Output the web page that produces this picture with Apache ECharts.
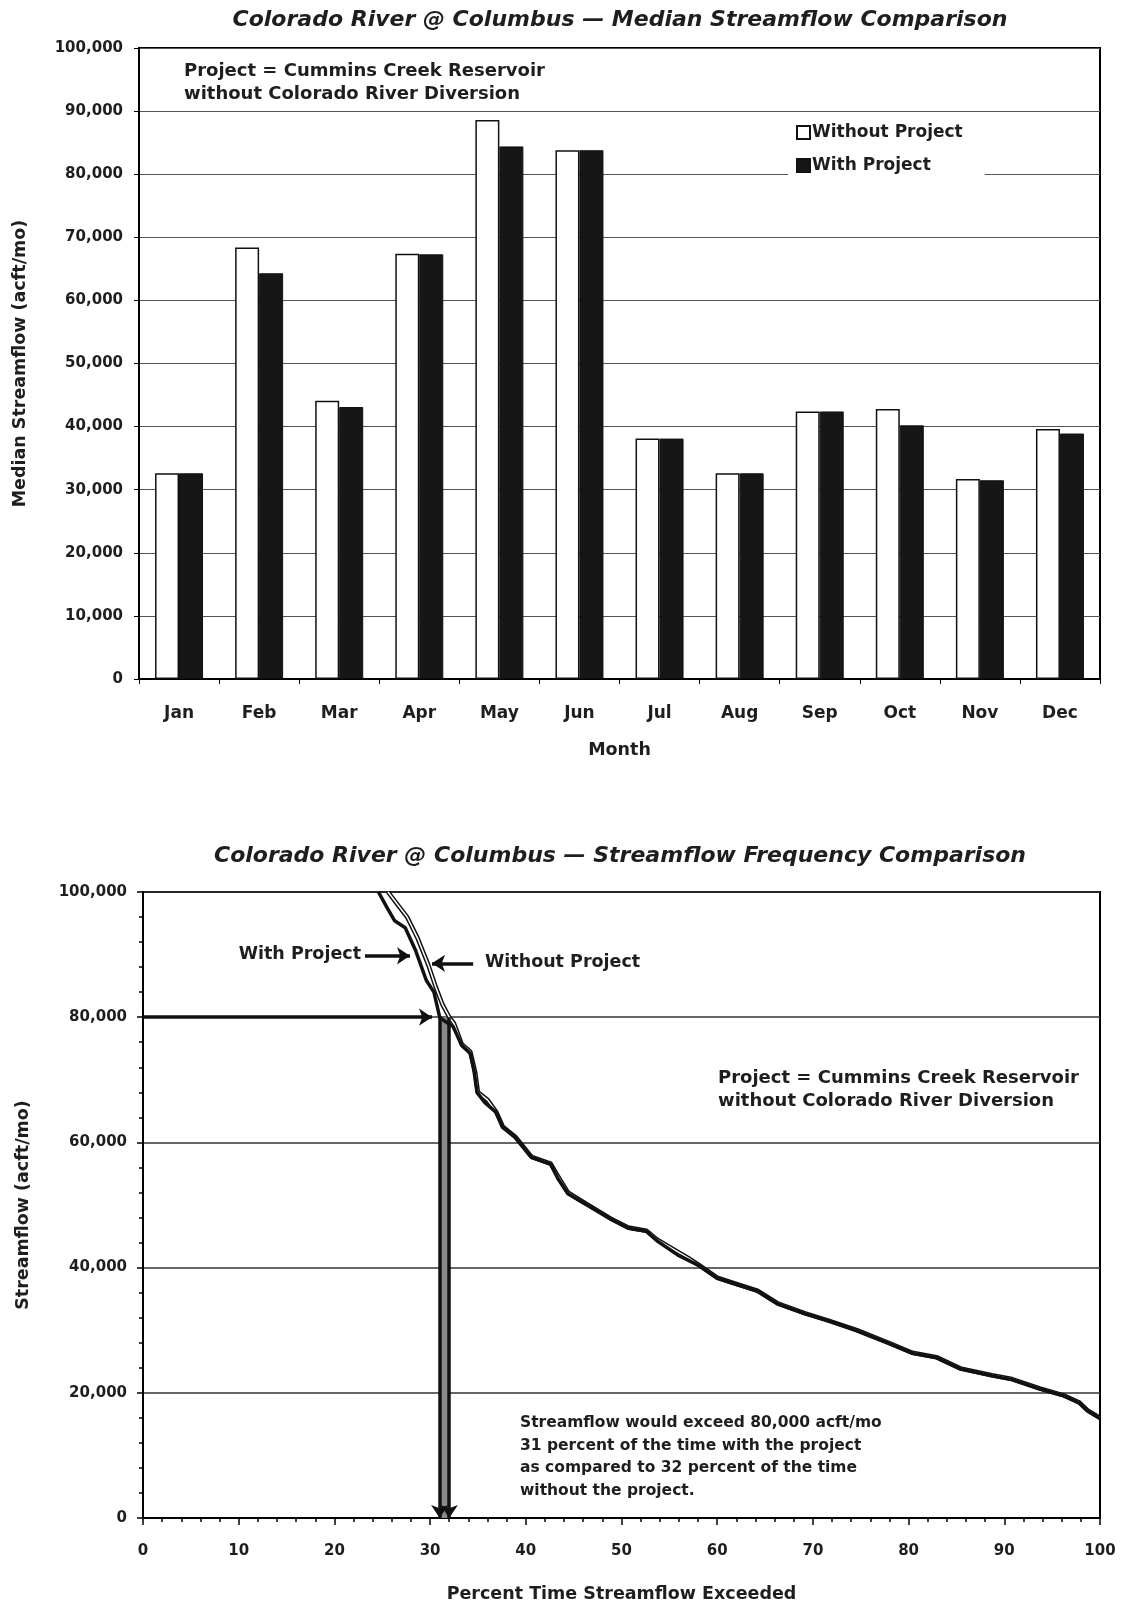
<!DOCTYPE html>
<html>
<head>
<meta charset="utf-8">
<script src="https://cdn.jsdelivr.net/npm/echarts@6/dist/echarts.min.js"></script>
<style>
html, body { margin: 0; padding: 0; background: #fff; }
#chart { width: 1123px; height: 1604px; }
</style>
</head>
<body>
<div id="chart"></div>
<script>
// Median monthly streamflow (acft/mo)
var months = ['Jan', 'Feb', 'Mar', 'Apr', 'May', 'Jun', 'Jul', 'Aug', 'Sep', 'Oct', 'Nov', 'Dec'];
var medianWithout = [32600, 68400, 44100, 67400, 88600, 83800, 38100, 32600, 42400, 42800, 31700, 39600];
var medianWith = [32600, 64300, 43100, 67300, 84400, 83800, 38100, 32600, 42400, 40200, 31500, 38900];

// Frequency curves: [percent of time exceeded, streamflow acft/mo]
var freqWith = [
    [24.6, 100000], [25.5, 97500], [26.3, 95400], [27.4, 94300], [28.5, 90600], [29.6, 85900],
    [30.4, 84000], [31.0, 80000], [31.6, 79300], [32.4, 78500], [33.3, 75500], [34.2, 74200],
    [34.6, 71300], [34.9, 68000], [35.7, 66400], [36.9, 64800], [37.6, 62400], [38.9, 60800],
    [40.6, 57600], [42.6, 56500], [43.4, 54100], [44.4, 51800], [46.3, 50100], [48.8, 47800],
    [50.7, 46300], [52.6, 45800], [53.7, 44300], [55.9, 42000], [58.0, 40400], [60.0, 38300],
    [62.0, 37300], [64.2, 36300], [66.3, 34200], [69.2, 32600], [71.7, 31500], [74.6, 29900],
    [77.9, 27900], [80.4, 26300], [82.9, 25600], [85.4, 23800], [88.7, 22700], [90.8, 22100],
    [93.7, 20600], [96.2, 19500], [97.8, 18400], [98.7, 17100], [100, 15900]
];
var freqWithout = [
    [25.6, 100000], [26.6, 98000], [27.6, 96000], [28.7, 92600], [29.8, 88400], [30.6, 84800],
    [31.3, 82000], [32.0, 80000], [32.5, 79000], [33.3, 75700], [34.2, 74500], [34.7, 71300],
    [35.0, 68000], [36.0, 66800], [36.9, 64900], [37.6, 62500], [38.9, 60900], [40.6, 57700],
    [42.6, 56600], [43.2, 55000], [44.4, 52000], [46.3, 50200], [48.8, 47900], [50.7, 46400],
    [52.6, 45900], [53.7, 44500], [55.8, 42600], [57.0, 41500], [58.0, 40500], [60.0, 38400],
    [62.0, 37400], [64.2, 36300], [66.3, 34300], [69.2, 32700], [71.7, 31500], [74.6, 30000],
    [77.9, 28000], [80.4, 26400], [82.9, 25700], [85.4, 23900], [88.7, 22800], [90.8, 22200],
    [93.7, 20700], [96.2, 19600], [97.8, 18500], [98.7, 17200], [100, 16000]
];

// 80,000 acft/mo exceedance: with project 31 %, without project 32 %
var threshold = 80000;
var exceedWith = 31;
var exceedWithout = 32;

var FONT = '"DejaVu Sans", "Liberation Sans", sans-serif';
var INK = '#1e1e1e';

function fmt(v) { return Number(v).toLocaleString('en-US'); }

var chart = echarts.init(document.getElementById('chart'), null, { renderer: 'canvas' });

var nameStyle = { fontFamily: FONT, fontWeight: 'bold', fontSize: 17.5, color: INK };

var option = {
    animation: false,
    backgroundColor: '#fff',
    grid: [
        { left: 139, right: 23, top: 48, height: 631, show: true, borderColor: '#000', borderWidth: 2, backgroundColor: 'transparent' },
        { left: 143, right: 23, top: 892, height: 629, show: true, borderColor: '#000', borderWidth: 2, backgroundColor: 'transparent' }
    ],
    xAxis: [
        {
            gridIndex: 0, type: 'category', data: months, boundaryGap: true,
            name: 'Month', nameLocation: 'middle', nameGap: 62, nameTextStyle: nameStyle,
            axisLine: { lineStyle: { color: '#000', width: 2 } },
            axisTick: { show: true, length: 5, alignWithLabel: false, lineStyle: { color: '#000' } },
            axisLabel: { margin: 26, fontFamily: FONT, fontWeight: 'bold', fontSize: 17, color: INK },
            splitLine: { show: false }
        },
        {
            gridIndex: 1, type: 'value', min: 0, max: 100, interval: 10,
            name: 'Percent Time Streamflow Exceeded', nameLocation: 'middle', nameGap: 67, nameTextStyle: nameStyle,
            axisLine: { lineStyle: { color: '#000', width: 2 } },
            axisTick: { show: true, length: 7, lineStyle: { color: '#000', width: 1.5 } },
            minorTick: { show: true, splitNumber: 5, length: 4, lineStyle: { color: '#000', width: 1.5 } },
            axisLabel: { margin: 26, fontFamily: FONT, fontWeight: 'bold', fontSize: 15, color: INK },
            splitLine: { show: false }
        }
    ],
    yAxis: [
        {
            gridIndex: 0, type: 'value', min: 0, max: 100000, interval: 10000,
            name: 'Median Streamflow (acft/mo)', nameLocation: 'middle', nameGap: 110, nameTextStyle: nameStyle,
            axisLine: { show: true, lineStyle: { color: '#000', width: 2 } },
            axisTick: { show: true, length: 5, lineStyle: { color: '#000' } },
            axisLabel: { margin: 16, formatter: fmt, fontFamily: FONT, fontWeight: 'bold', fontSize: 15, color: INK },
            splitLine: { show: true, lineStyle: { color: '#555', width: 1.2 } }
        },
        {
            gridIndex: 1, type: 'value', min: 0, max: 100000, interval: 20000,
            name: 'Streamflow (acft/mo)', nameLocation: 'middle', nameGap: 111, nameTextStyle: nameStyle,
            axisLine: { show: true, lineStyle: { color: '#000', width: 2 } },
            axisTick: { show: true, length: 6, lineStyle: { color: '#000', width: 1.5 } },
            minorTick: { show: true, splitNumber: 5, length: 4, lineStyle: { color: '#000', width: 1.5 } },
            axisLabel: { margin: 16, formatter: fmt, fontFamily: FONT, fontWeight: 'bold', fontSize: 15, color: INK },
            splitLine: { show: true, lineStyle: { color: '#333', width: 1.5 } }
        }
    ],
    legend: {
        data: ['Without Project', 'With Project'],
        orient: 'vertical', left: 788, top: 116,
        icon: 'rect',
        itemWidth: 13, itemHeight: 13, itemGap: 16,
        backgroundColor: '#fff', padding: [8, 22, 12, 8],
        textStyle: { fontFamily: FONT, fontWeight: 'bold', fontSize: 17, color: INK, padding: [0, 0, 0, -3] },
        selectedMode: false
    },
    series: [
        {
            name: 'Without Project', type: 'bar', xAxisIndex: 0, yAxisIndex: 0,
            data: medianWithout, barWidth: 24, barGap: '0%',
            itemStyle: { color: '#fff', borderColor: '#111', borderWidth: 1.5 }
        },
        {
            name: 'With Project', type: 'bar', xAxisIndex: 0, yAxisIndex: 0,
            data: medianWith, barWidth: 24, barGap: '0%',
            itemStyle: { color: '#161616', borderColor: '#111', borderWidth: 1 }
        },
        {
            name: 'Without (edge)', type: 'line', xAxisIndex: 1, yAxisIndex: 1,
            data: freqWithout, showSymbol: false, symbol: 'none', z: 3,
            lineStyle: { color: '#111', width: 4.5 }
        },
        {
            name: 'Without (core)', type: 'line', xAxisIndex: 1, yAxisIndex: 1,
            data: freqWithout, showSymbol: false, symbol: 'none', z: 4,
            lineStyle: { color: '#fff', width: 1.5 }
        },
        {
            name: 'With (curve)', type: 'line', xAxisIndex: 1, yAxisIndex: 1,
            data: freqWith, showSymbol: false, symbol: 'none', z: 5,
            lineStyle: { color: '#111', width: 3.5 },
            markArea: {
                silent: true,
                itemStyle: { color: '#8a8a8a' },
                data: [[{ coord: [exceedWith, 0] }, { coord: [exceedWithout, threshold] }]]
            },
            markLine: {
                silent: true, animation: false,
                symbol: ['none', 'arrow'], symbolSize: 13,
                label: { show: false },
                lineStyle: { color: '#111', width: 3.5, type: 'solid' },
                data: [
                    [{ coord: [0, threshold] }, { coord: [30.2, threshold] }],
                    [{ coord: [exceedWith, threshold] }, { coord: [exceedWith, 0] }],
                    [{ coord: [exceedWithout, threshold] }, { coord: [exceedWithout, 0] }],
                    [{ coord: [23.2, 89800] }, { coord: [27.9, 89800] }],
                    [{ coord: [34.5, 88600] }, { coord: [30.2, 88600] }]
                ]
            }
        }
    ],
    graphic: [
        { type: 'text', x: 620, y: 20, style: { text: 'Colorado River @ Columbus \u2014 Median Streamflow Comparison', font: 'italic bold 22px ' + FONT, fill: INK, textAlign: 'center', textVerticalAlign: 'middle' } },
        { type: 'text', x: 620, y: 856, style: { text: 'Colorado River @ Columbus \u2014 Streamflow Frequency Comparison', font: 'italic bold 22px ' + FONT, fill: INK, textAlign: 'center', textVerticalAlign: 'middle' } },
        { type: 'text', x: 184, y: 60, style: { text: 'Project = Cummins Creek Reservoir\nwithout Colorado River Diversion', font: 'bold 18px ' + FONT, lineHeight: 23, fill: INK, textAlign: 'left', textVerticalAlign: 'top' } },
        { type: 'text', x: 718, y: 1067, style: { text: 'Project = Cummins Creek Reservoir\nwithout Colorado River Diversion', font: 'bold 18px ' + FONT, lineHeight: 23, fill: INK, textAlign: 'left', textVerticalAlign: 'top' } },
        { type: 'text', x: 520, y: 1412, style: { text: 'Streamflow would exceed 80,000 acft/mo\n31 percent of the time with the project\nas compared to 32 percent of the time\nwithout the project.', font: 'bold 15.5px ' + FONT, lineHeight: 22.5, fill: INK, textAlign: 'left', textVerticalAlign: 'top' } },
        { type: 'text', x: 361, y: 954, style: { text: 'With Project', font: 'bold 17.5px ' + FONT, fill: INK, textAlign: 'right', textVerticalAlign: 'middle' } },
        { type: 'text', x: 485, y: 962, style: { text: 'Without Project', font: 'bold 17.5px ' + FONT, fill: INK, textAlign: 'left', textVerticalAlign: 'middle' } }
    ]
};

chart.setOption(option);
</script>
</body>
</html>
